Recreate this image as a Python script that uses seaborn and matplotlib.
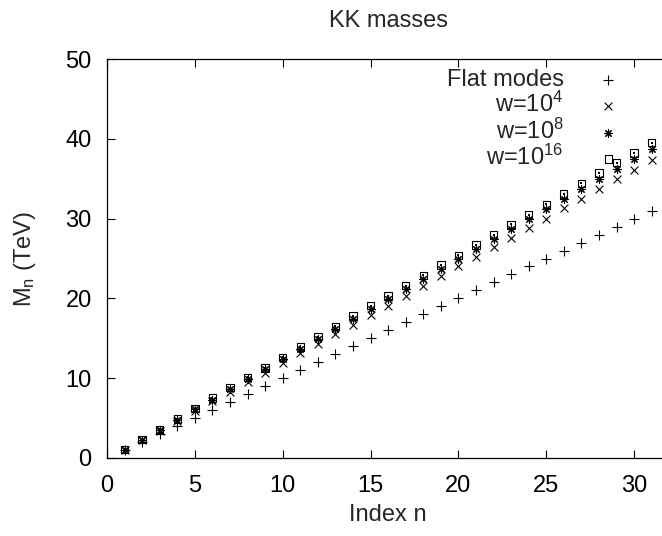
import numpy as np
import pandas as pd
import seaborn as sns
import matplotlib
matplotlib.use('Agg')
import matplotlib.pyplot as plt

# KK mode index
n = list(range(1, 32))

# masses in TeV
flatModes = [1, 2, 3, 4, 5, 6, 7, 8, 9, 10, 11, 12, 13, 14, 15, 16,
             17, 18, 19, 20, 21, 22, 23, 24, 25, 26, 27, 28, 29, 30, 31]
w1e4 = [1.0, 2.2, 3.4, 4.6, 5.9, 7.1, 8.3, 9.5, 10.7, 11.9, 13.1, 14.3, 15.5, 16.7, 17.9, 19.1,
        20.3, 21.6, 22.8, 24.0, 25.2, 26.4, 27.6, 28.8, 30.0, 31.3, 32.5, 33.7, 34.9, 36.1, 37.3]
w1e8 = [1.0, 2.2, 3.5, 4.8, 6.1, 7.3, 8.6, 9.9, 11.1, 12.4, 13.6, 14.9, 16.2, 17.4, 18.7, 19.9,
        21.2, 22.4, 23.7, 24.9, 26.2, 27.4, 28.7, 29.9, 31.2, 32.4, 33.7, 34.9, 36.2, 37.5, 38.7]
w1e16 = [1.1, 2.3, 3.6, 4.9, 6.2, 7.5, 8.8, 10.1, 11.3, 12.6, 13.9, 15.2, 16.5, 17.8, 19.1, 20.3,
         21.6, 22.9, 24.2, 25.4, 26.7, 28.0, 29.3, 30.5, 31.8, 33.1, 34.4, 35.7, 37.0, 38.2, 39.5]

labels = ['Flat modes', 'w=$10^4$', 'w=$10^8$', 'w=$10^{16}$']

sns.set_style('ticks')
plt.rcParams['font.family'] = ['Liberation Sans', 'DejaVu Sans']
plt.rcParams['mathtext.fontset'] = 'custom'
plt.rcParams['mathtext.rm'] = 'Liberation Sans'
plt.rcParams['mathtext.it'] = 'Liberation Sans'
plt.rcParams['mathtext.default'] = 'regular'

fs = 17
W, H = 662, 536
fig = plt.figure(figsize=(W / 100, H / 100), dpi=100)
ax = fig.add_axes([107 / W, 78 / H, 32 * 17.57 / W, 399 / H])

sns.scatterplot(x=n, y=flatModes, marker='+', s=45, color='black', linewidth=0.8, ax=ax, label=labels[0])
sns.scatterplot(x=n, y=w1e4, marker='x', s=32, color='black', linewidth=0.8, ax=ax, label=labels[1])
sns.scatterplot(x=n, y=w1e8, marker=(8, 2, 0), s=30, color='black', linewidth=0.8, ax=ax, label=labels[2])
sns.scatterplot(x=n, y=w1e16, marker='s', s=28, facecolor='none', edgecolor='black', linewidth=0.8, ax=ax, label=labels[3])
# gnuplot draws a dot in the middle of the square
sns.scatterplot(x=n, y=w1e16, marker='s', s=1.5, color='black', linewidth=0, ax=ax)

ax.set_xlim(0, 32)
ax.set_ylim(0, 50)
ax.set_xticks([0, 5, 10, 15, 20, 25, 30])
ax.set_yticks([0, 10, 20, 30, 40, 50])
ax.tick_params(direction='in', length=6, width=0.8, top=True, right=False, labelsize=fs, colors='black')
ax.tick_params(axis='x', pad=12)
ax.tick_params(axis='y', pad=11)
for side in ['left', 'bottom', 'top']:
    ax.spines[side].set_visible(True)
    ax.spines[side].set_linewidth(0.9)
    ax.spines[side].set_color('black')
ax.spines['right'].set_visible(False)

ax.set_title('KK masses', fontsize=fs, pad=23)
ax.set_xlabel('Index n', fontsize=fs, labelpad=5)
ax.set_ylabel('M$_n$ (TeV)', fontsize=fs, labelpad=20)

leg = ax.legend(loc='upper right', bbox_to_anchor=(632 / W, 1 - 69 / H), bbox_transform=fig.transFigure,
                frameon=False, markerfirst=False, fontsize=fs, borderpad=0, borderaxespad=0,
                handlelength=2, handletextpad=0.9, labelspacing=0.05)
for t in leg.get_texts():
    t.set_ha('right')

fig.savefig('out.png', dpi=100)
